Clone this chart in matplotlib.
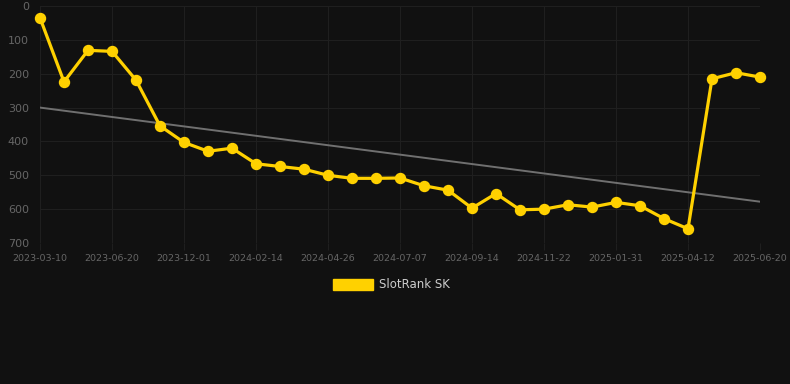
import numpy as np
import matplotlib.pyplot as plt
from matplotlib.patches import Patch

# sample dates (only every 3rd one is labelled on the axis)
tick_labels = ['2023-03-10', '2023-06-20', '2023-12-01', '2024-02-14', '2024-04-26',
               '2024-07-07', '2024-09-14', '2024-11-22', '2025-01-31', '2025-04-12',
               '2025-06-20']
rank = [35, 224, 131, 134, 219, 354, 403, 429, 420, 466,
        474, 482, 500, 509, 509, 508, 531, 544, 597, 554,
        602, 600, 587, 594, 580, 590, 628, 658, 215, 197, 210]
trend_start = 300
trend_end = 578

bg = '#111111'
gold = '#ffd100'
grid_col = '#1f1f1f'
txt_col = '#666666'

fig = plt.figure(figsize=(7.9, 3.84), dpi=100, facecolor=bg)
ax = fig.add_axes([40/790, (384-243)/384, 720/790, 237/384])
ax.set_facecolor(bg)

x = np.arange(len(rank))
ax.plot([x[0], x[-1]], [trend_start, trend_end], color='#707070', lw=1.4, zorder=2)
ax.plot(x, rank, color=gold, lw=2.3, marker='o', ms=7.2, mfc=gold, mec=gold,
        zorder=3, clip_on=False)

ax.set_xlim(0, len(rank) - 1)
ax.set_ylim(700, 0)
ax.set_yticks(range(0, 701, 100))
ax.set_xticks(x[::3])
ax.set_xticklabels(tick_labels)
ax.set_xticks(x, minor=True)

ax.grid(True, color=grid_col, lw=0.8, zorder=0)
for s in ax.spines.values():
    s.set_visible(False)
ax.tick_params(axis='x', colors=grid_col, labelcolor=txt_col, labelsize=6.8,
               length=5, width=0.8, pad=3)
ax.tick_params(axis='x', which='minor', length=0)
ax.tick_params(axis='y', colors=grid_col, labelcolor=txt_col, labelsize=8,
               length=0, pad=8)

handle = Patch(facecolor=gold, edgecolor=gold)
fig.legend([handle], ['SlotRank SK'], loc='center', bbox_to_anchor=(391/790, 1 - 285/384),
           frameon=False, labelcolor='#cccccc', fontsize=8.5, handlelength=3.4,
           handleheight=1.0, handletextpad=0.5)

fig.savefig('out.png', dpi=100, facecolor=bg)
